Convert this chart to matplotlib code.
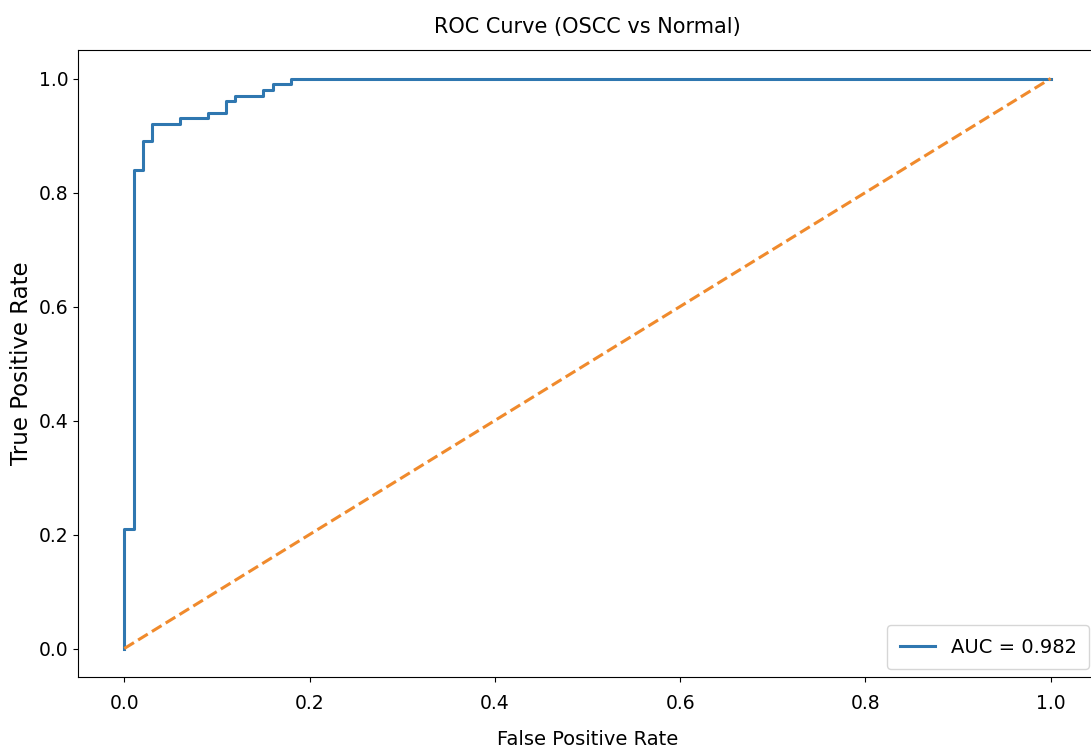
import matplotlib
matplotlib.use("Agg")
import matplotlib.pyplot as plt

fpr = [0.0, 0.0, 0.01, 0.01, 0.02, 0.02, 0.03, 0.03, 0.06, 0.06, 0.09, 0.09,
       0.11, 0.11, 0.12, 0.12, 0.15, 0.15, 0.16, 0.16, 0.18, 0.18, 1.0]
tpr = [0.0, 0.21, 0.21, 0.84, 0.84, 0.89, 0.89, 0.92, 0.92, 0.93, 0.93, 0.94,
       0.94, 0.96, 0.96, 0.97, 0.97, 0.98, 0.98, 0.99, 0.99, 1.0, 1.0]
auc_label = "AUC = 0.982"
diag = [0.0, 1.0]
ticks = [0.0, 0.2, 0.4, 0.6, 0.8, 1.0]

plt.rcParams['font.family'] = ['DejaVu Sans']

fig = plt.figure(figsize=(10.91, 7.52), dpi=100)
ax = fig.add_axes([78/1091, 75/752, 1019/1091, 627/752])
ax.plot(fpr, tpr, color='#2f77b0', lw=2.2, label=auc_label)
ax.plot(diag, diag, color='#f08a2c', lw=2.2, linestyle='--')
ax.set_xlim(-0.05, 1.05)
ax.set_ylim(-0.05, 1.05)
ax.set_xticks(ticks)
ax.set_yticks(ticks)
ax.tick_params(labelsize=13.5)
ax.tick_params(axis='x', pad=9)
ax.set_xlabel("False Positive Rate", fontsize=14, labelpad=12)
ax.set_ylabel("True Positive Rate", fontsize=16.5, labelpad=4)
ax.set_title("ROC Curve (OSCC vs Normal)", fontsize=15, pad=12)
ax.legend(loc='lower right', fontsize=14, borderaxespad=0.4, handlelength=1.8,
          borderpad=0.65)
fig.savefig("out.png", dpi=100)
